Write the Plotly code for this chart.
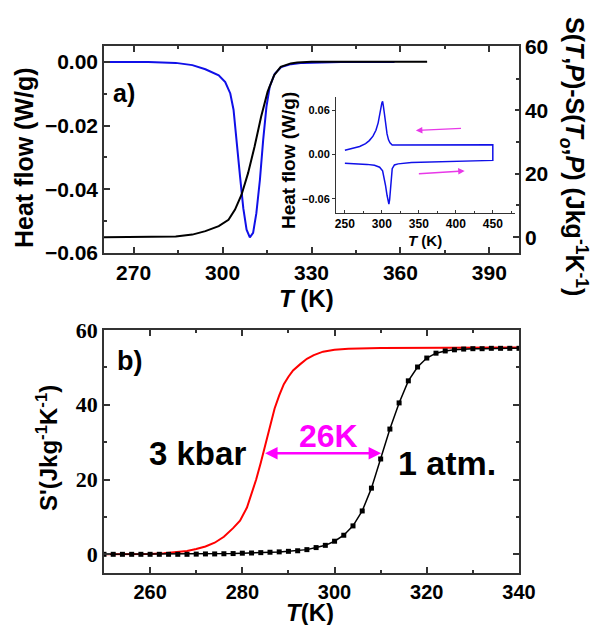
import plotly.graph_objects as go

W, H = 591, 625

# ---------------- Panel a: main DSC / entropy ----------------
a_hf_T = [260, 275, 284.2, 289.8, 294.2, 298.7, 300.9, 302.6, 303.7, 304.8, 305.9, 307.0,
          308.1, 309.2, 310.3, 311.4, 312.6, 313.7, 314.8, 315.9, 317.6, 319.8, 323.1,
          327, 332, 340, 350, 358]
a_hf = [0.0, 0.0, -0.0003, -0.001, -0.0023, -0.0042, -0.0063, -0.0099, -0.015, -0.0245,
        -0.036, -0.046, -0.0527, -0.0551, -0.0537, -0.0475, -0.037, -0.0245, -0.0141,
        -0.0078, -0.0037, -0.0016, -0.0007, -0.0003, -0.0001, 0.0, 0.0, 0.0]

a_S_T = [260, 275, 284.2, 289.8, 294.2, 298.7, 302.0, 304.2, 306.4, 308.6, 310.8, 313.0,
         315.2, 317.4, 319.6, 323.0, 325.2, 330, 340, 355, 369]
a_S = [0.0, 0.0, 0.2, 0.8, 1.9, 3.5, 5.5, 8.7, 13.4, 20.2, 28.6, 38.0, 45.9, 51.1, 53.7,
       54.8, 55.1, 55.3, 55.3, 55.3, 55.3]

# ---------------- Inset: heating / cooling loop ----------------
in_heat_T = [250, 265, 280, 290, 297, 301, 303, 305, 307, 308.5, 309.5, 310.5, 311.5, 312.5,
             314, 317, 322, 340, 380, 420, 450]
in_heat = [-0.0115, -0.012, -0.0132, -0.0145, -0.017, -0.022, -0.03, -0.042, -0.055,
           -0.064, -0.067, -0.061, -0.045, -0.03, -0.019, -0.014, -0.0125, -0.0108,
           -0.0095, -0.0085, -0.0078]
in_cool_T = [450, 420, 380, 340, 320, 314, 311, 309, 307, 305, 303.5, 302, 301, 300,
             298.5, 297, 295, 292, 288, 283, 278, 270, 260, 250]
in_cool = [0.0133, 0.0132, 0.013, 0.0127, 0.0123, 0.013, 0.016, 0.02, 0.028, 0.04, 0.055,
           0.066, 0.072, 0.07, 0.062, 0.053, 0.043, 0.033, 0.025, 0.019, 0.015, 0.011,
           0.008, 0.006]

# ---------------- Panel b: entropy curves ----------------
b_atm_T = list(range(250, 341, 2))
b_atm = [0, 0, 0, 0, 0, 0, 0, 0, 0, 0, 0.05, 0.1, 0.1, 0.15, 0.2, 0.3, 0.35, 0.45, 0.55,
         0.65, 0.8, 0.95, 1.25, 1.8, 2.4, 3.5, 5.1, 7.6, 11.6, 17.7, 25.5, 33.5, 40.5,
         46.4, 50.1, 52.5, 53.8, 54.4, 54.7, 54.9, 55.0, 55.0, 55.1, 55.1, 55.1, 55.1]

b_kbar_T = [250, 255, 260, 263, 266, 268, 270, 272, 274, 276, 278, 279.5, 281, 282, 283,
            284, 285, 286, 287, 288, 289, 290, 291, 292.5, 294, 295.5, 297.5, 300, 303,
            310, 320, 340]
b_kbar = [0, 0, 0.05, 0.3, 0.6, 0.9, 1.4, 2.1, 3.1, 4.7, 7.0, 9.0, 12.5, 16, 20, 24.5,
          29.5, 34.5, 39, 42.5, 45.5, 47.5, 49.2, 50.8, 52.3, 53.3, 54.2, 54.7, 55.0,
          55.2, 55.3, 55.3]

gap_T = [284.6, 310.1]
gap_S = 27

fig = go.Figure()

fig.add_trace(go.Scatter(x=a_hf_T, y=a_hf, mode="lines", line=dict(color="#1010e8", width=2),
                         xaxis="x", yaxis="y", showlegend=False))
fig.add_trace(go.Scatter(x=a_S_T, y=a_S, mode="lines", line=dict(color="black", width=2),
                         xaxis="x", yaxis="y2", showlegend=False))
fig.add_trace(go.Scatter(x=in_heat_T + in_cool_T, y=in_heat + in_cool, mode="lines",
                         line=dict(color="#1010e8", width=1.5),
                         xaxis="x3", yaxis="y3", showlegend=False))
fig.add_trace(go.Scatter(x=b_kbar_T, y=b_kbar, mode="lines", line=dict(color="#ff0000", width=2),
                         xaxis="x2", yaxis="y4", showlegend=False))
fig.add_trace(go.Scatter(x=b_atm_T, y=b_atm, mode="lines+markers",
                         line=dict(color="black", width=1.5),
                         marker=dict(symbol="square", size=5, color="black"),
                         xaxis="x2", yaxis="y4", showlegend=False))

def px(x):
    return x / W

def py(y):
    return 1 - y / H

FONT = "Liberation Sans, Arial, sans-serif"
SERIF = "Liberation Serif, Times New Roman, serif"
axcol = "#333333"

common = dict(showline=True, linecolor=axcol, linewidth=1.5, ticks="inside", ticklen=6,
              tickwidth=1.5, tickcolor=axcol, showgrid=False, zeroline=False)

fig.update_layout(
    width=W, height=H, margin=dict(l=0, r=0, t=0, b=0, autoexpand=False),
    paper_bgcolor="white", plot_bgcolor="white",
    xaxis=dict(domain=[px(104), px(519)], anchor="y", range=[260, 400], tick0=270, dtick=30,
               mirror="ticks", minor=dict(ticks="inside", ticklen=3, dtick=15, tick0=270,
                                          tickcolor=axcol),
               tickfont=dict(family=FONT, size=21, color="black", weight="bold"), **common),
    yaxis=dict(domain=[py(253), py(46)], anchor="x", range=[-0.06, 0.005], tick0=0, dtick=0.02,
               tickformat=".2f", minor=dict(ticks="inside", ticklen=3, dtick=0.01, tickcolor=axcol),
               tickfont=dict(family=FONT, size=21, color="black", weight="bold"), **common),
    yaxis2=dict(overlaying="y", side="right", anchor="x", range=[-5, 60.3], tick0=0, dtick=20,
                minor=dict(ticks="inside", ticklen=3, dtick=10, tickcolor=axcol),
                tickfont=dict(family=FONT, size=21, color="black", weight="bold"), **common),
    xaxis3=dict(domain=[px(336), px(515)], anchor="y3", range=[238, 480], tick0=250, dtick=50,
                showline=True, linecolor=axcol, linewidth=1, ticks="inside", ticklen=3,
                tickcolor=axcol, showgrid=False, zeroline=False,
                minor=dict(ticks="inside", ticklen=2, dtick=25, tickcolor=axcol),
                tickfont=dict(family=FONT, size=12, color="black", weight="bold")),
    yaxis3=dict(domain=[py(213), py(97)], anchor="x3", range=[-0.079, 0.078], tick0=0, dtick=0.06,
                tickformat=".2f", showline=True, linecolor=axcol, linewidth=1, ticks="outside",
                ticklen=3, tickcolor=axcol, showgrid=False, zeroline=False,
                tickfont=dict(family=FONT, size=11, color="black", weight="bold")),
    xaxis2=dict(domain=[px(104), px(519)], anchor="y4", range=[250, 340], tick0=260, dtick=20,
                mirror="ticks", minor=dict(ticks="inside", ticklen=3, dtick=10, tickcolor=axcol),
                tickfont=dict(family=FONT, size=20, color="black", weight="bold"), **common),
    yaxis4=dict(domain=[py(573), py(330)], anchor="x2", range=[-5, 60], tick0=0, dtick=20,
                mirror="ticks", minor=dict(ticks="inside", ticklen=3, dtick=10, tickcolor=axcol),
                tickfont=dict(family=SERIF, size=22, color="black", weight="bold"), **common),
)

ann = []
def label(text, x, y, size, angle=0, color="black", family=FONT):
    ann.append(dict(text=text, x=px(x), y=py(y), xref="paper", yref="paper", showarrow=False,
                    textangle=angle, xanchor="center", yanchor="middle",
                    font=dict(family=family, size=size, color=color, weight="bold")))

label("Heat flow (W/g)", 24, 158, 25, angle=-90)
label("S(<i>T</i>,<i>P</i>)-S(<i>T</i><sub><i>o</i></sub>,<i>P</i>) (Jkg<sup>-1</sup>K<sup>-1</sup>)",
      574, 156, 25, angle=90)
label("<i>T</i> (K)", 306, 299, 24)
label("a)", 124, 93, 25)
label("Heat flow (W/g)", 288, 161, 19, angle=-90)
label("<i>T</i> (K)", 425, 241, 15)
label("b)", 129, 361, 27)
label("S'(Jkg<sup>-1</sup>K<sup>-1</sup>)", 47, 448, 24, angle=-90)
label("<i>T</i>(K)", 310, 612, 24)
label("3 kbar", 197, 453, 33)
label("26K", 328, 436, 32, color="#ff00ff")
label("1 atm.", 447, 463, 34)

# arrows
ann.append(dict(x=gap_T[1], y=gap_S, ax=gap_T[0], ay=gap_S, xref="x2", yref="y4",
                axref="x2", ayref="y4", showarrow=True, arrowhead=2, arrowside="end+start",
                arrowsize=1, arrowwidth=2.5, arrowcolor="#ff00ff", text=""))
ann.append(dict(x=346, y=0.0326, ax=409, ay=0.0357, xref="x3", yref="y3", axref="x3",
                ayref="y3", showarrow=True, arrowhead=2, arrowsize=1, arrowwidth=1.3,
                arrowcolor="#e838e8", text=""))
ann.append(dict(x=412, y=-0.022, ax=348, ay=-0.026, xref="x3", yref="y3", axref="x3",
                ayref="y3", showarrow=True, arrowhead=2, arrowsize=1, arrowwidth=1.3,
                arrowcolor="#e838e8", text=""))
fig.update_layout(annotations=ann)

fig.write_html("out.html", config={"displayModeBar": False},
               post_script="document.body.style.margin='0';document.body.style.overflow='hidden';")
